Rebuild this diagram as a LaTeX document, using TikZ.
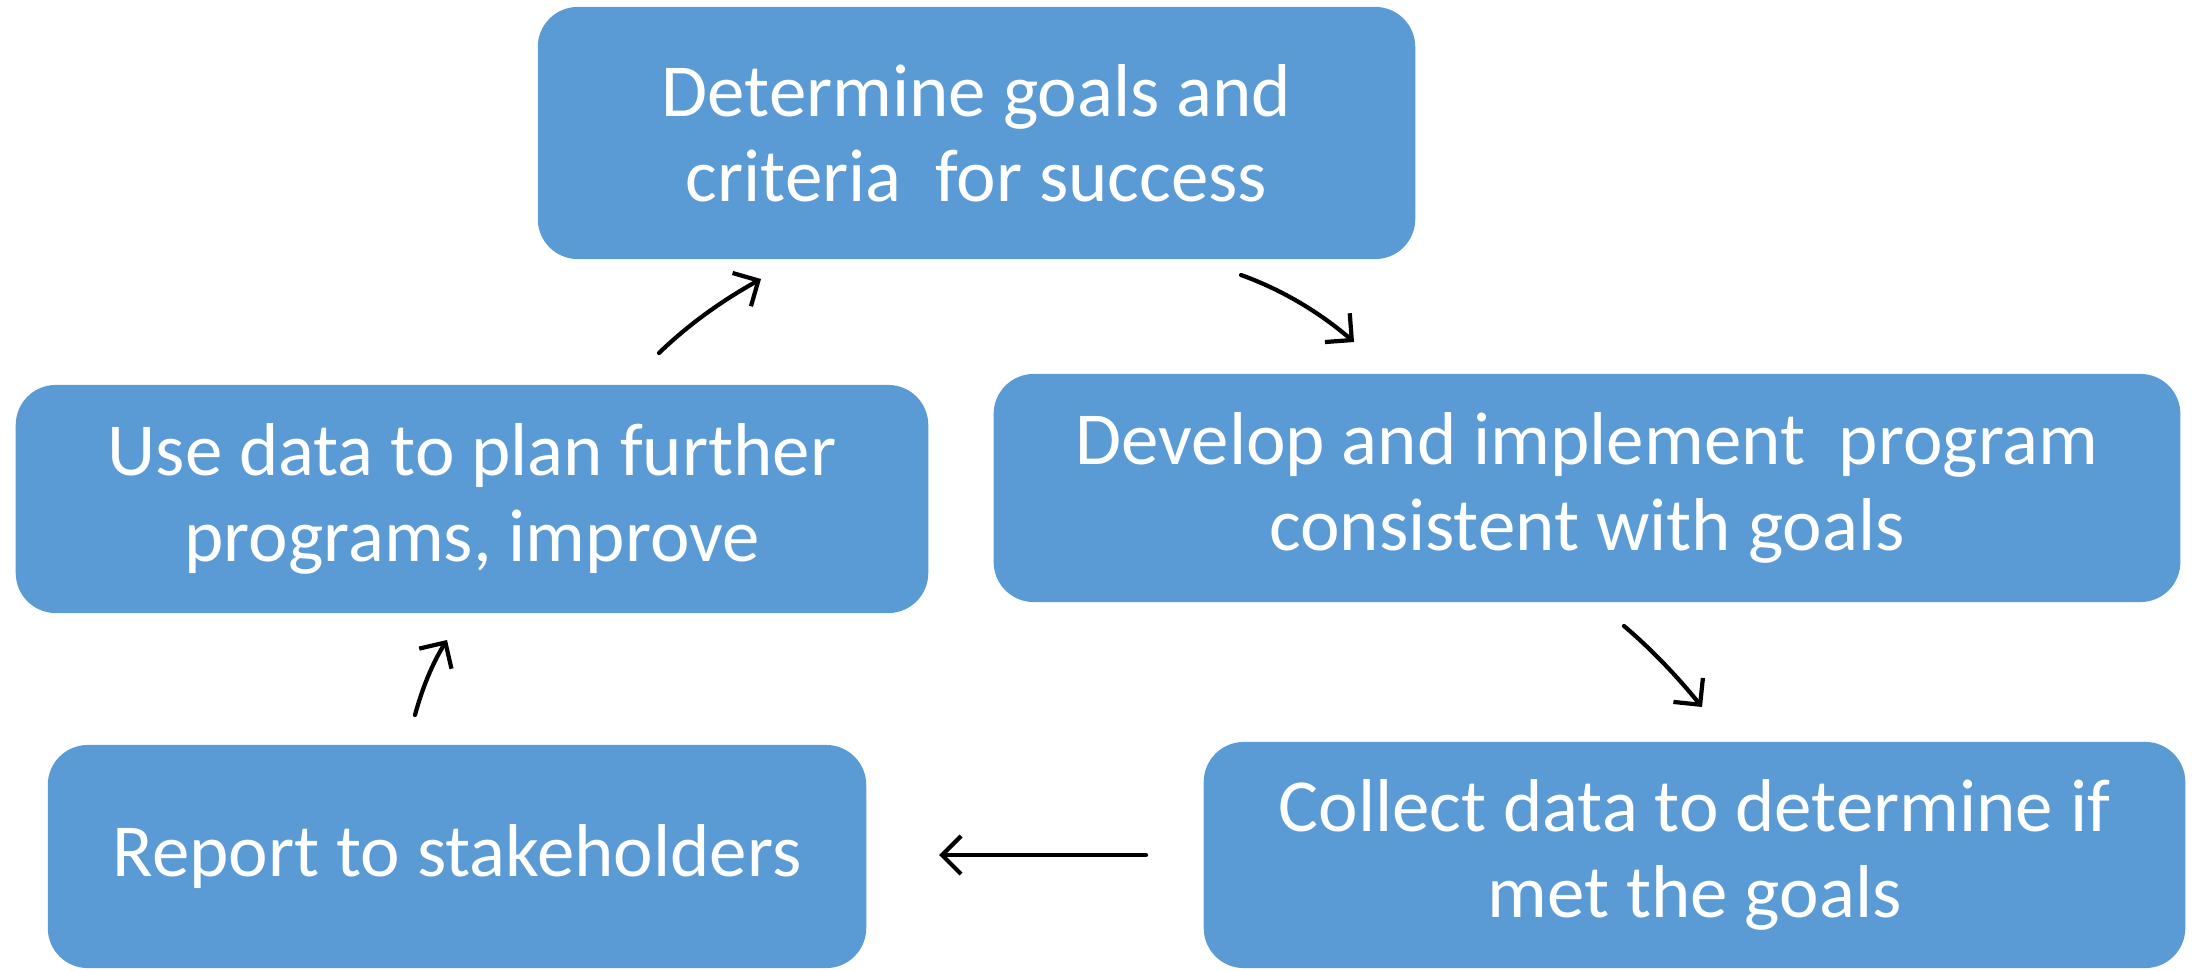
\documentclass[tikz,border=0pt]{standalone}
\usepackage{fontspec}
\setmainfont{Carlito}
\usetikzlibrary{arrows.meta}
\definecolor{stepblue}{HTML}{5B9BD5}
\begin{document}
\begin{tikzpicture}[x=0.01cm,y=-0.01cm,
  stepbox/.style={fill=stepblue, rounded corners=0.4cm, inner sep=0pt,
    align=center, text=white, font=\fontsize{21.3}{24.3}\selectfont},
  flow/.style={line width=1.2pt, line cap=round,
    -{Straight Barb[length=1.9mm,width=3.8mm,line width=1.2pt]}}]
\useasboundingbox (0,0) rectangle (2195,970);

% cycle steps
\node[stepbox, minimum width=8.77cm, minimum height=2.52cm] (goals) at (976.5,133)
  {Determine goals and\\criteria~ for success};
\node[stepbox, minimum width=11.86cm, minimum height=2.28cm] (develop) at (1587,488)
  {Develop and implement~ program\\consistent with goals};
\node[stepbox, minimum width=9.81cm, minimum height=2.26cm] (collect) at (1694.5,855)
  {Collect data to determine if\\met the goals};
\node[stepbox, minimum width=8.18cm, minimum height=2.23cm] (report) at (457,856.5)
  {Report to stakeholders};
\node[stepbox, minimum width=9.12cm, minimum height=2.28cm] (usedata) at (472,499)
  {Use data to plan further\\programs, improve};

% arrow end points in the gaps between steps
\coordinate (a1s) at (659,353);  \coordinate (a1e) at (761,279);
\coordinate (a2s) at (1241,275); \coordinate (a2e) at (1354,342);
\coordinate (a3s) at (1624,626); \coordinate (a3e) at (1702,707);
\coordinate (a4s) at (1146,855); \coordinate (a4e) at (939,855);
\coordinate (a5s) at (415,715);  \coordinate (a5e) at (447,640);

\draw[flow] (a1s) .. controls (689,324) and (723,300) .. (a1e);
\draw[flow] (a2s) .. controls (1280,289) and (1318,311) .. (a2e);
\draw[flow] (a3s) .. controls (1650,648) and (1676,675) .. (a3e);
\draw[flow] (a4s) -- (a4e);
\draw[flow] (a5s) .. controls (422,689) and (432,664) .. (a5e);
\end{tikzpicture}
\end{document}
